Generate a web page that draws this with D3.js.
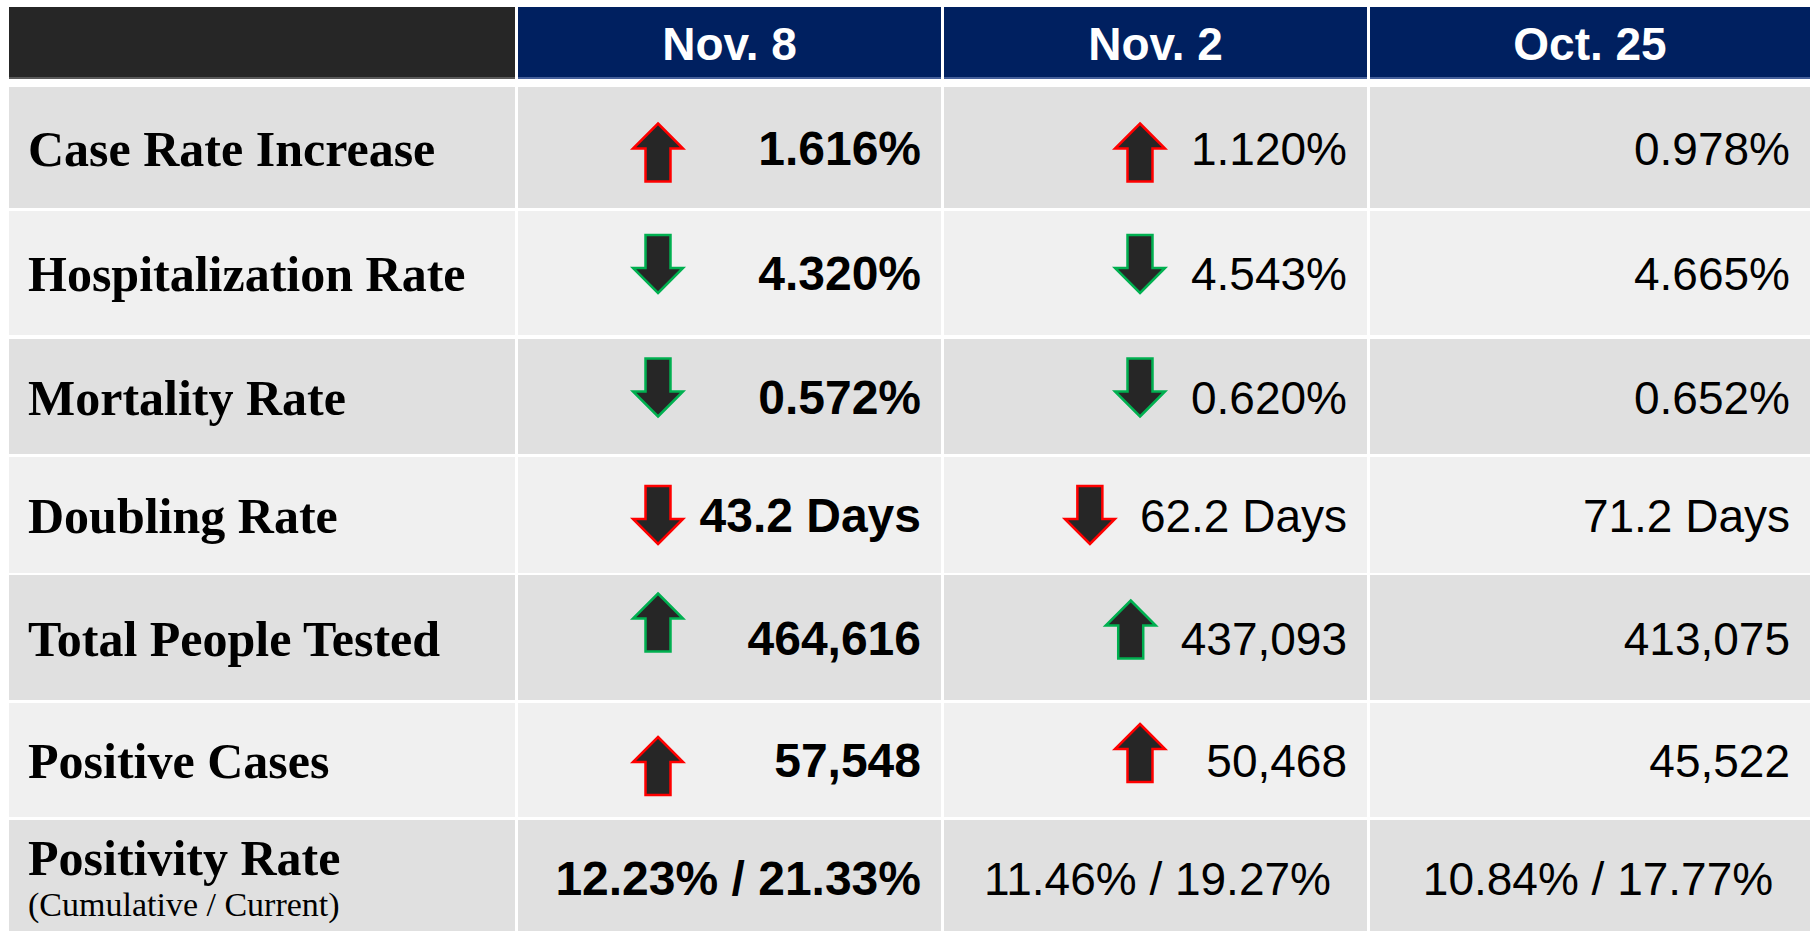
<!DOCTYPE html>
<html>
<head>
<meta charset="utf-8">
<script src="https://cdn.jsdelivr.net/npm/d3@7"></script>
<style>
  html, body { margin: 0; padding: 0; background: #fff; }
  svg { display: block; }
</style>
</head>
<body>
<svg id="tbl"></svg>
<script>
// Kennzahlen-Tabelle (Trend-Übersicht)
const metrics = ["Case Rate Increase", "Hospitalization Rate", "Mortality Rate",
  "Doubling Rate", "Total People Tested", "Positive Cases", "Positivity Rate"];
const metricNotes = ["", "", "", "", "", "", "(Cumulative / Current)"];
const dates = ["Nov. 8", "Nov. 2", "Oct. 25"];

const valuesNov8 = ["1.616%", "4.320%", "0.572%", "43.2 Days", "464,616", "57,548", "12.23% / 21.33%"];
const valuesNov2 = ["1.120%", "4.543%", "0.620%", "62.2 Days", "437,093", "50,468", "11.46% / 19.27%"];
const valuesOct25 = ["0.978%", "4.665%", "0.652%", "71.2 Days", "413,075", "45,522", "10.84% / 17.77%"];

// Trend: Richtung + gut/schlecht (null = kein Pfeil)
const trendNov8 = ["up-bad", "down-good", "down-good", "down-bad", "up-good", "up-bad", null];
const trendNov2 = ["up-bad", "down-good", "down-good", "down-bad", "up-good", "up-bad", null];
const trendOct25 = [null, null, null, null, null, null, null];

const columns = [
  { date: dates[0], values: valuesNov8, trend: trendNov8, bold: true },
  { date: dates[1], values: valuesNov2, trend: trendNov2, bold: false },
  { date: dates[2], values: valuesOct25, trend: trendOct25, bold: false }
];

// Layout
const W = 1812, H = 931;
const headerTop = 7, headerBottom = 79;
const rowTops = [87, 211, 339, 457, 575, 703, 820];
const rowBottoms = [208, 335, 454, 573, 700, 817, 931];
const colLeft = [9, 518, 944, 1370];
const colRight = [515, 941, 1367, 1810];
const arrowDy = [[5, -9, -9, 0, -15, 6], [5, -9, -9, 0, -8, -7]];

const svg = d3.select("#tbl").attr("width", W).attr("height", H);

const yTop = d3.scaleOrdinal().domain(metrics).range(rowTops);
const yBot = d3.scaleOrdinal().domain(metrics).range(rowBottoms);
const xLeft = d3.scaleOrdinal().domain(["label", ...dates]).range(colLeft);
const xRight = d3.scaleOrdinal().domain(["label", ...dates]).range(colRight);
const rowMid = m => (yTop(m) + yBot(m)) / 2;

const navy = "#002060";
const sansFont = "'Liberation Sans', Arial, sans-serif";
const serifFont = "'Liberation Serif', 'Times New Roman', serif";

// Kopfzeile
const head = svg.append("g");
head.selectAll("rect.hd")
  .data(["label", ...dates])
  .join("rect")
    .attr("class", "hd")
    .attr("x", d => xLeft(d))
    .attr("y", headerTop)
    .attr("width", d => xRight(d) - xLeft(d))
    .attr("height", headerBottom - headerTop)
    .attr("fill", d => d === "label" ? "#262626" : navy);

head.selectAll("rect.hdline")
  .data(["label", ...dates])
  .join("rect")
    .attr("class", "hdline")
    .attr("x", d => xLeft(d))
    .attr("y", headerBottom - 2)
    .attr("width", d => xRight(d) - xLeft(d))
    .attr("height", 2)
    .attr("fill", d => d === "label" ? "#5a5a5a" : "#46609a");

head.selectAll("text")
  .data(dates)
  .join("text")
    .attr("x", d => (xLeft(d) + xRight(d)) / 2)
    .attr("y", (headerTop + headerBottom) / 2 + 17)
    .attr("text-anchor", "middle")
    .attr("fill", "#fff")
    .attr("font-family", sansFont)
    .attr("font-weight", "bold")
    .attr("font-size", 46)
    .text(d => d);

// Zeilen-Hintergrund
const body = svg.append("g");
metrics.forEach((m, i) => {
  const fill = i % 2 === 0 ? "#e0e0e0" : "#f0f0f0";
  body.selectAll(null)
    .data(["label", ...dates])
    .enter()
    .append("rect")
      .attr("x", d => xLeft(d))
      .attr("y", yTop(m))
      .attr("width", d => xRight(d) - xLeft(d))
      .attr("height", yBot(m) - yTop(m))
      .attr("fill", fill);
});

// Zeilenbeschriftungen
body.selectAll("text.lbl")
  .data(metrics)
  .join("text")
    .attr("class", "lbl")
    .attr("x", 28)
    .attr("y", (d, i) => metricNotes[i] ? yTop(d) + 55 : rowMid(d) + 18)
    .attr("fill", "#000")
    .attr("font-family", serifFont)
    .attr("font-weight", "bold")
    .attr("font-size", 50)
    .text(d => d);

body.selectAll("text.note")
  .data(metrics.filter((d, i) => metricNotes[i]))
  .join("text")
    .attr("class", "note")
    .attr("x", 28)
    .attr("y", d => yTop(d) + 96)
    .attr("fill", "#000")
    .attr("font-family", serifFont)
    .attr("font-size", 34)
    .text(d => metricNotes[metrics.indexOf(d)]);

// Pfeil-Form (zentriert um 0,0)
const arrowUp = "M0,-29 L25,-4 L12.5,-4 L12.5,29 L-12.5,29 L-12.5,-4 L-25,-4 Z";
const arrowDown = "M0,29 L25,4 L12.5,4 L12.5,-29 L-12.5,-29 L-12.5,4 L-25,4 Z";

// Werte + Pfeile je Spalte
columns.forEach((col, ci) => {
  const g = svg.append("g");
  const right = xRight(col.date) - 20;
  const cells = metrics.map((m, i) => ({ metric: m, value: col.values[i], trend: col.trend[i], i }));

  const texts = g.selectAll("text")
    .data(cells)
    .join("text")
      .attr("fill", "#000")
      .attr("font-family", sansFont)
      .attr("font-weight", col.bold ? "bold" : "normal")
      .attr("font-size", d => col.bold ? 48 : 46)
      .attr("y", d => rowMid(d.metric) + (d.i === 6 ? 19 : 17))
      .text(d => d.value);

  texts.each(function (d) {
    const t = d3.select(this);
    if (d.i === 6 && ci > 0) {
      // Positivitätsrate mittig in den älteren Spalten
      t.attr("text-anchor", "middle")
        .attr("x", (xLeft(col.date) + xRight(col.date)) / 2 + (ci === 2 ? 8 : 2));
    } else {
      t.attr("text-anchor", "end").attr("x", right);
    }
  });

  g.selectAll("path")
    .data(cells.filter(d => d.trend))
    .join("path")
      .attr("d", d => d.trend.startsWith("up") ? arrowUp : arrowDown)
      .attr("fill", "#262626")
      .attr("stroke", d => d.trend.endsWith("good") ? "#00b050" : "#ff0000")
      .attr("stroke-width", 2.5)
      .attr("transform", (d) => {
        let cx;
        if (ci === 0) {
          cx = 658;
        } else {
          const textNode = texts.filter(t => t.i === d.i).node();
          const textLeft = textNode.getBBox().x;
          cx = Math.min(1140, textLeft - 25 - 25);
        }
        const cy = rowMid(d.metric) + arrowDy[ci][d.i];
        return `translate(${cx},${cy})`;
      });
});
</script>
</body>
</html>
